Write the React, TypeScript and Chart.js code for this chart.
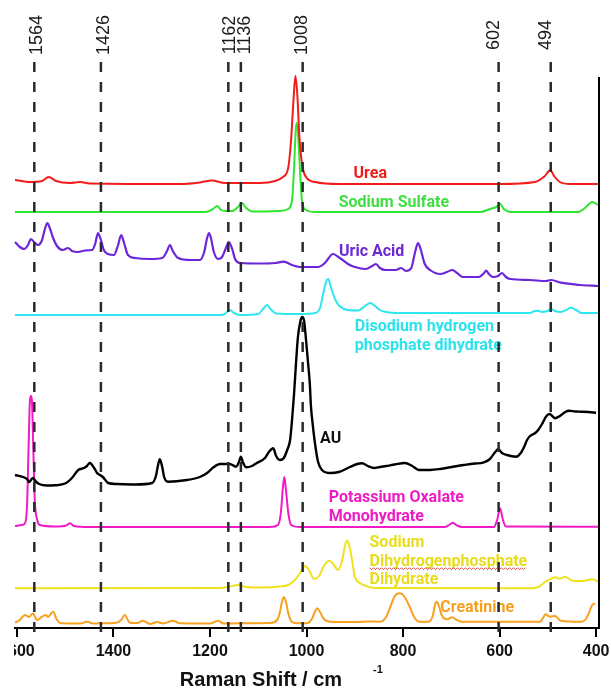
import React, { useEffect, useRef } from "react";
import { Chart, registerables } from "chart.js";

Chart.register(...registerables);

// x axis (Raman shift, cm^-1) tick labels and marked peak positions
const xTickValues = [1600, 1400, 1200, 1000, 800, 600, 400];
const peakPositions = [1564, 1426, 1162, 1136, 1008, 602, 494];

// stacked spectra: [Raman shift, intensity (a.u., offset included)]
const urea = [
  [1604, 448], [1573, 446], [1548, 447], [1534, 451], [1519, 447], [1490, 445], [1469, 446], [1449, 444.5],
  [1262, 444], [1221, 445.5], [1196, 447.5], [1169, 445], [1096, 445], [1065, 447], [1049, 451], [1038, 460],
  [1032, 488], [1027, 528], [1023, 552], [1019, 533], [1015, 493], [1009, 463], [1001, 451], [982, 446],
  [931, 444], [599, 444], [527, 446], [506, 452], [495, 458], [487, 452], [475, 446], [454, 444], [396, 444],
];

const sodiumSulfate = [
  [1604, 416], [1210, 416], [1194, 419], [1185, 422], [1177, 418], [1167, 417], [1154, 417], [1142, 421],
  [1134, 425], [1125, 420], [1113, 416.5], [1055, 417], [1038, 419], [1030, 428], [1026, 458], [1022, 500],
  [1020, 505], [1017, 490], [1013, 453], [1009, 425], [1001, 418], [982, 416], [640, 416], [620, 419],
  [607, 421], [599, 424], [591, 419], [578, 416], [437, 416], [423, 420], [408, 426], [396, 423],
];

const uricAcid = [
  [1604, 386], [1594, 381], [1585, 379], [1577, 383], [1571, 389], [1563, 385], [1556, 383], [1548, 388],
  [1542, 399], [1537, 405], [1532, 400], [1525, 390], [1517, 382], [1505, 378], [1494, 380], [1486, 377],
  [1473, 376], [1459, 377.5], [1444, 378], [1438, 384], [1432, 395], [1426, 388], [1420, 378], [1411, 374],
  [1399, 373], [1391, 382], [1384, 393], [1378, 385], [1370, 373], [1355, 370], [1324, 369], [1299, 370],
  [1289, 377], [1283, 383], [1277, 377], [1266, 370], [1241, 368], [1221, 368], [1212, 376], [1206, 390],
  [1202, 395], [1198, 390], [1192, 376], [1183, 369], [1175, 371], [1167, 380], [1161, 386], [1154, 379],
  [1148, 369], [1138, 365], [1096, 364.5], [1065, 365], [1047, 366.3], [1030, 363], [1013, 361], [976, 361],
  [962, 365], [945, 374], [931, 370], [914, 364], [900, 361], [877, 359], [864, 362], [856, 364],
  [848, 360], [837, 358], [815, 358], [804, 360], [794, 357], [783, 360], [775, 376], [769, 385],
  [763, 378], [755, 364], [744, 358], [723, 354], [709, 356], [698, 358], [688, 355], [676, 351],
  [643, 351], [632, 355], [628, 357.3], [622, 354], [614, 351], [603, 352], [595, 355], [587, 351],
  [578, 349], [537, 348], [504, 347], [493, 348], [473, 345.3], [433, 343], [396, 342],
];

const disodiumPhosphate = [
  [1604, 313], [1175, 313], [1167, 315], [1159, 318], [1150, 315], [1138, 313], [1100, 314], [1090, 319],
  [1082, 323], [1073, 318], [1063, 314.5], [1013, 314], [982, 315], [972, 320], [966, 333], [959, 347],
  [955, 349], [949, 340], [940, 328], [931, 321.5], [914, 318], [893, 317.5], [881, 321], [868, 325],
  [858, 322], [848, 318], [835, 316], [806, 315], [537, 315], [527, 317], [520, 317.3], [512, 316],
  [501, 317], [493, 319], [485, 317], [473, 316], [462, 318], [452, 320.3], [441, 318], [431, 315], [396, 315],
];

const au = [
  [1604, 153], [1587, 151], [1579, 149], [1575, 146], [1567, 150], [1560, 146], [1554, 144], [1538, 142.5],
  [1521, 142.7], [1498, 145], [1486, 150], [1473, 158], [1461, 160], [1455, 162], [1449, 165], [1440, 160],
  [1434, 155], [1428, 153], [1422, 151], [1411, 145], [1393, 144], [1355, 143.5], [1320, 145], [1312, 152],
  [1308, 162], [1304, 168.7], [1299, 161], [1295, 151], [1287, 146.3], [1248, 148], [1221, 151], [1206, 155],
  [1192, 161], [1179, 164], [1159, 164], [1146, 161.3], [1140, 166], [1136, 171.3], [1132, 166], [1125, 160.7],
  [1113, 162], [1103, 165], [1086, 170], [1078, 176], [1069, 179.7], [1063, 172], [1055, 168], [1047, 170],
  [1040, 178], [1034, 188], [1030, 208], [1026, 233], [1022, 263], [1018, 290], [1013, 306], [1009, 311],
  [1005, 307], [1001, 288], [997, 266], [993, 243], [991, 223], [987, 203], [982, 183], [976, 166],
  [968, 158], [951, 155], [933, 156], [910, 161], [895, 164], [885, 164.7], [873, 162], [860, 160],
  [848, 161], [835, 162], [817, 163.5], [796, 165], [781, 162], [767, 158], [744, 158], [723, 159],
  [699, 161], [674, 163], [651, 164.5], [634, 165.3], [620, 169], [609, 176], [603, 178.7], [595, 175],
  [585, 173], [566, 171.3], [556, 175], [549, 181.3], [543, 188], [537, 192], [526, 195], [520, 198],
  [512, 204], [504, 211.3], [496, 214], [491, 212], [485, 209.7], [475, 212], [464, 216], [456, 217.3],
  [443, 216.5], [431, 216.3], [416, 216], [400, 215.3],
];

const potassiumOxalate = [
  [1604, 102], [1590, 103], [1583, 105], [1579, 123], [1576, 178], [1573, 228], [1571, 232], [1569, 228],
  [1566, 178], [1563, 128], [1558, 108], [1552, 103], [1521, 101.5], [1498, 102.5], [1490, 104.7], [1482, 102],
  [1449, 101], [1076, 101], [1059, 103], [1053, 116], [1049, 140], [1046, 151], [1043, 140], [1038, 116],
  [1032, 103], [1013, 101], [713, 101], [703, 103.5], [697, 105.3], [688, 102.5], [678, 101], [612, 101],
  [605, 108], [599, 119.7], [593, 108], [587, 101.5], [396, 101.3],
];

const sodiumDihydrogenPhosphate = [
  [1604, 39.7], [1179, 40], [1159, 41.5], [1142, 43], [1125, 41], [1096, 40.5], [1055, 41.5], [1038, 43],
  [1024, 48], [1013, 55], [1003, 62], [995, 58], [984, 49], [974, 52], [964, 62], [953, 67.3],
  [945, 64], [934, 58], [926, 68], [920, 83], [916, 87.3], [911, 82], [905, 66], [900, 51.3],
  [889, 45], [877, 42], [858, 40], [537, 39.7], [520, 41], [506, 46], [496, 48.7], [485, 50.7],
  [475, 49.3], [464, 51.3], [456, 49], [448, 47], [424, 47.3], [408, 48.7], [396, 46.3],
];

const creatinine = [
  [1604, 5.3], [1594, 8], [1583, 13], [1575, 11], [1567, 14.5], [1558, 8], [1548, 11.3], [1540, 13],
  [1536, 11], [1525, 16.3], [1517, 8], [1507, 4.7], [1469, 4.5], [1455, 6.3], [1442, 4.5], [1428, 4.7],
  [1397, 5], [1384, 8], [1377, 13], [1366, 5.3], [1351, 5], [1339, 7.3], [1324, 4], [1310, 6],
  [1297, 4.5], [1277, 7.3], [1262, 4.7], [1200, 4.5], [1183, 7.3], [1173, 4.5], [1138, 4.7], [1076, 5],
  [1061, 8], [1055, 16], [1051, 26], [1047, 31], [1042, 25], [1038, 15], [1032, 7], [1024, 5],
  [999, 4.7], [989, 9], [982, 17], [978, 19.7], [972, 16], [964, 9], [951, 6.3], [900, 6],
  [868, 6.5], [848, 6.3], [835, 11], [825, 23], [817, 32], [807, 34.7], [798, 32], [787, 22],
  [777, 11], [767, 6.3], [747, 6.3], [738, 13], [734, 23], [730, 26.3], [725, 21], [720, 13],
  [709, 8.7], [699, 10.7], [688, 8], [678, 6.3], [516, 6.3], [510, 10], [505, 13.7], [496, 11.3],
  [485, 12], [473, 7.3], [431, 6.3], [421, 9], [415, 15], [408, 23], [402, 24.7],
];

const series = [
  { label: "Urea", data: urea, color: "#f21c1c", width: 2 },
  { label: "Sodium Sulfate", data: sodiumSulfate, color: "#2fe62f", width: 2 },
  { label: "Uric Acid", data: uricAcid, color: "#6c26d9", width: 2.2 },
  { label: "Disodium hydrogen phosphate dihydrate", data: disodiumPhosphate, color: "#2de6ef", width: 2 },
  { label: "AU", data: au, color: "#000000", width: 2.4 },
  { label: "Potassium Oxalate Monohydrate", data: potassiumOxalate, color: "#f01bc6", width: 2 },
  { label: "Sodium Dihydrogenphosphate Dihydrate", data: sodiumDihydrogenPhosphate, color: "#f0e21e", width: 2 },
  { label: "Creatinine", data: creatinine, color: "#f7a11e", width: 2 },
];

// text tags next to each spectrum, anchored in data units
const seriesTags = [
  { lines: ["Urea"], at: [868, 454], align: "center", color: "#ee1b1b" },
  { lines: ["Sodium Sulfate"], at: [819, 425], align: "center", color: "#3fdf3f" },
  { lines: ["Uric Acid"], at: [865, 376], align: "center", color: "#6c28d4" },
  { lines: ["Disodium hydrogen", "phosphate dihydrate"], at: [900, 301], align: "left", color: "#2ce2ec" },
  { lines: ["AU"], at: [972, 189], align: "left", color: "#111111" },
  { lines: ["Potassium Oxalate", "Monohydrate"], at: [954, 130], align: "left", color: "#ee1bc4" },
  { lines: ["Sodium", "Dihydrogenphosphate", "Dihydrate"], at: [869.5, 85], align: "left", color: "#e8dc1c", squiggle: 1 },
  { lines: ["Creatinine"], at: [723, 20], align: "left", color: "#f5a01e" },
];

// small horizontal nudges (px) of the rotated peak labels relative to their lines
const peakLabelNudge: Record<number, number> = { 1564: 3, 1426: 3, 1162: 2, 1136: 4, 1008: -1, 602: -5, 494: -5 };

const overlayPlugin = {
  id: "overlay",
  afterDatasetsDraw(chart: any) {
    const { ctx, chartArea: a, scales } = chart;
    const x = scales.x;
    const y = scales.y;
    ctx.save();

    // spectrum tags
    ctx.textBaseline = "middle";
    ctx.font = "bold 16px Roboto, 'Liberation Sans', Arial, sans-serif";
    for (const t of seriesTags) {
      ctx.fillStyle = t.color;
      ctx.textAlign = t.align;
      const px = x.getPixelForValue(t.at[0]);
      const py = y.getPixelForValue(t.at[1]);
      t.lines.forEach((s: string, i: number) => {
        const ly = py + i * 18.7;
        ctx.fillText(s, px, ly);
        if (t.squiggle === i) {
          const w = ctx.measureText(s).width;
          ctx.save();
          ctx.strokeStyle = "#e04848";
          ctx.lineWidth = 1;
          ctx.beginPath();
          let up = true;
          for (let sx = px; sx <= px + w; sx += 2) {
            const sy = ly + 7 + (up ? -1 : 1);
            if (sx === px) ctx.moveTo(sx, sy);
            else ctx.lineTo(sx, sy);
            up = !up;
          }
          ctx.stroke();
          ctx.restore();
        }
      });
    }

    // dashed marker lines
    ctx.strokeStyle = "#2a2a2a";
    ctx.lineWidth = 2.5;
    ctx.setLineDash([10, 10]);
    for (const v of peakPositions) {
      const px = x.getPixelForValue(v);
      ctx.beginPath();
      ctx.moveTo(px, a.top);
      ctx.lineTo(px, a.bottom + 6);
      ctx.stroke();
    }
    ctx.setLineDash([]);

    // right frame line
    ctx.strokeStyle = "#000";
    ctx.lineWidth = 2;
    ctx.beginPath();
    ctx.moveTo(a.right, a.top + 15);
    ctx.lineTo(a.right, a.bottom);
    ctx.stroke();

    // rotated peak labels
    ctx.fillStyle = "#1a1a1a";
    ctx.font = "18px 'Liberation Sans', Arial, sans-serif";
    ctx.textAlign = "center";
    ctx.textBaseline = "middle";
    for (const v of peakPositions) {
      const px = x.getPixelForValue(v) + (peakLabelNudge[v] || 0);
      ctx.save();
      ctx.translate(px, a.top - 27);
      ctx.rotate(-Math.PI / 2);
      ctx.fillText(String(v), 0, 0);
      ctx.restore();
    }

    // axis title with superscript
    ctx.fillStyle = "#111";
    ctx.font = "bold 20px 'Liberation Sans', Arial, sans-serif";
    ctx.textAlign = "center";
    ctx.textBaseline = "middle";
    ctx.fillText("Raman Shift / cm", a.left + 246, chart.height - 8);
    ctx.font = "bold 11px 'Liberation Sans', Arial, sans-serif";
    ctx.fillText("-1", a.left + 363, chart.height - 18);

    ctx.restore();
  },
};

export default function App() {
  const ref = useRef<HTMLCanvasElement>(null);

  useEffect(() => {
    const chart = new Chart(ref.current as HTMLCanvasElement, {
      type: "line",
      data: {
        datasets: series.map((s) => ({
          label: s.label,
          data: s.data.map(([wn, v]) => ({ x: wn, y: v })),
          borderColor: s.color,
          backgroundColor: s.color,
          borderWidth: s.width,
          pointRadius: 0,
          fill: false,
          cubicInterpolationMode: "monotone",
          clip: false,
        })),
      },
      options: {
        responsive: false,
        animation: false,
        events: [],
        layout: { padding: { left: 35, right: 21, top: 62, bottom: 0 } },
        plugins: { legend: { display: false }, tooltip: { enabled: false } },
        scales: {
          x: {
            type: "linear",
            reverse: true,
            min: 394,
            max: 1604,
            afterBuildTicks: (s: any) => {
              s.ticks = xTickValues.map((v) => ({ value: v }));
            },
            afterFit: (s: any) => {
              s.height = 60;
            },
            ticks: {
              autoSkip: false,
              maxRotation: 0,
              padding: 5,
              color: "#111",
              font: { family: "'Liberation Sans', Arial, sans-serif", size: 16, weight: "bold" },
              callback: (v: any) => String(v),
            },
            grid: { drawOnChartArea: false, drawTicks: true, tickLength: 9, color: "#000", lineWidth: 2 },
            border: { display: true, color: "#000", width: 2 },
          },
          y: { display: false, min: 0, max: 566 },
        },
      },
      plugins: [overlayPlugin],
    } as any);
    return () => chart.destroy();
  }, []);

  return (
    <div style={{ position: "fixed", left: 0, top: 0, width: 611, height: 688, background: "#fff", overflow: "hidden" }}>
      <div style={{ position: "absolute", left: 14, top: 0, width: 597, height: 688, overflow: "hidden" }}>
        <canvas
          ref={ref}
          width={640}
          height={688}
          style={{ position: "absolute", left: -34, top: 0, width: 640, height: 688 }}
        />
      </div>
    </div>
  );
}
